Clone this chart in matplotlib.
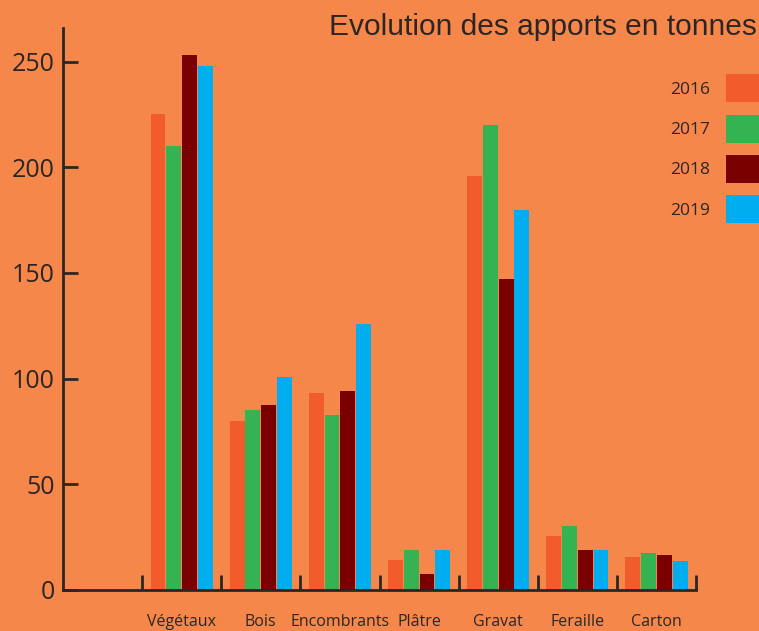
import numpy as np
import matplotlib.pyplot as plt

# Données (tonnes)
categories = ['Végétaux', 'Bois', 'Encombrants', 'Plâtre', 'Gravat', 'Feraille', 'Carton']
annees = ['2016', '2017', '2018', '2019']
v2016 = [225, 80, 93, 14, 196, 25.5, 15.5]
v2017 = [210, 85, 83, 19, 220, 30.5, 17.5]
v2018 = [253, 87.5, 94, 7.5, 147, 19, 16.5]
v2019 = [248, 101, 126, 19, 180, 19, 13.5]
couleurs = ['#F25C2C', '#35B252', '#7A0000', '#00AEEF']
y_ticks = [0, 50, 100, 150, 200, 250]

fond = '#F5874B'
trait = '#2b2624'

fig = plt.figure(figsize=(7.59, 6.31), dpi=100, facecolor=fond)
ax = fig.add_axes([0.083, 0.065, 0.834, 0.891], facecolor=fond)

x = np.arange(len(categories))
w = 0.2
series = [v2016, v2017, v2018, v2019]
for i, (vals, c, lab) in enumerate(zip(series, couleurs, annees)):
    ax.bar(x + (i - 1.5) * w, vals, width=w * 0.94, color=c, label=lab)

ax.set_xlim(-1.5, len(categories) - 0.5)
ax.set_ylim(0, 266)

for s in ['top', 'right']:
    ax.spines[s].set_visible(False)
for s in ['left', 'bottom']:
    ax.spines[s].set_color(trait)
    ax.spines[s].set_linewidth(2)

ax.set_yticks(y_ticks)
ax.set_yticklabels([str(t) for t in y_ticks], fontsize=18, color=trait, family='Open Sans')
ax.tick_params(axis='y', direction='in', length=11, width=2, color=trait, pad=6)

ax.set_xticks(np.arange(-0.5, len(categories)), minor=True)
ax.set_xticks(x)
ax.set_xticklabels(categories, fontsize=11.5, color=trait, family='Open Sans')
ax.tick_params(axis='x', which='major', length=0, pad=17)
ax.tick_params(axis='x', which='minor', direction='in', length=11, width=2, color=trait)

fig.text(0.997, 0.957, 'Evolution des apports en tonnes', ha='right', va='center',
         fontsize=21.5, color=trait, family='Liberation Sans')

leg = ax.legend(loc='upper left', bbox_to_anchor=(0.883, 0.882), bbox_transform=fig.transFigure,
                frameon=False, markerfirst=False, fontsize=12.5, handlelength=2.6,
                handleheight=2.1, labelspacing=0.71, handletextpad=0.9,
                borderpad=0, borderaxespad=0)
for t in leg.get_texts():
    t.set_color(trait)
    t.set_family('Open Sans')

fig.savefig('out.png', dpi=100, facecolor=fond)
